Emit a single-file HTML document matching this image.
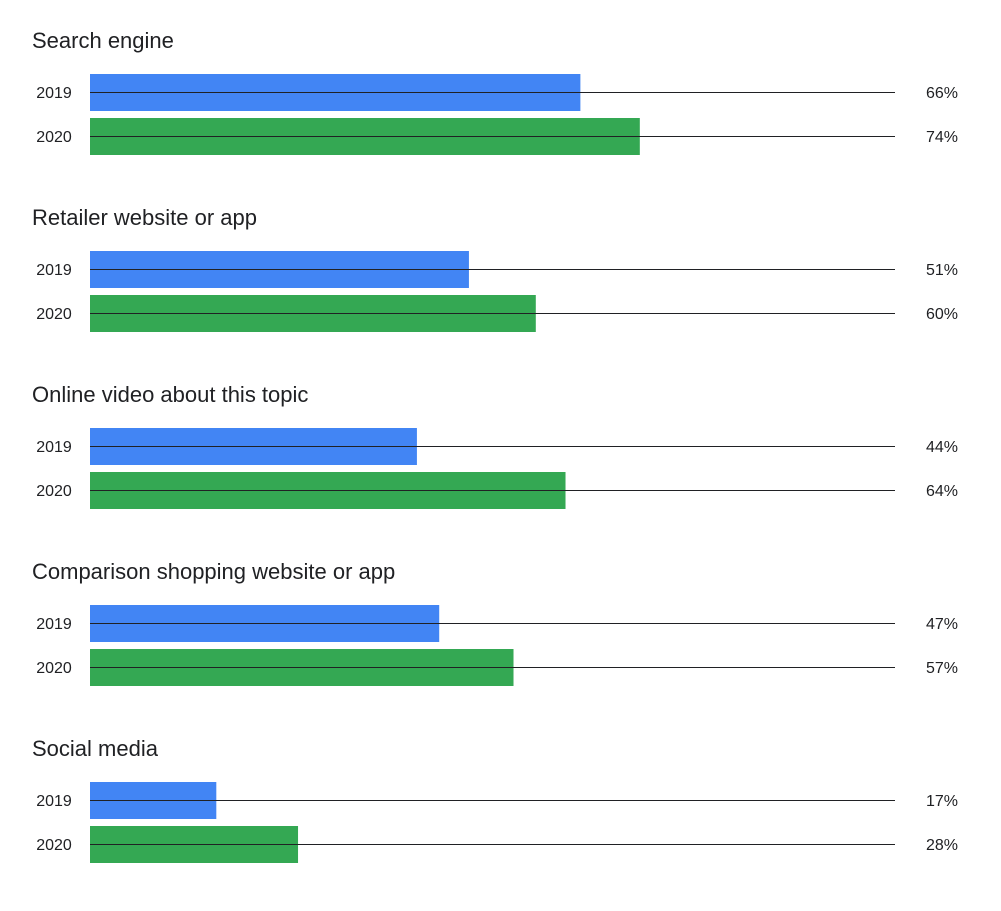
<!DOCTYPE html>
<html><head><meta charset="utf-8"><style>
html,body{margin:0;padding:0;background:#fff;}
svg{display:block;font-family:"Liberation Sans",sans-serif;}
</style></head><body>
<svg id="chart" width="1001" height="911" viewBox="0 0 1001 911"></svg>
<script>
const categories = ["Search engine","Retailer website or app","Online video about this topic","Comparison shopping website or app","Social media"];
const years = ["2019","2020"];
const values2019 = [66,51,44,47,17];
const values2020 = [74,60,64,57,28];

const svg = document.getElementById('chart');
const NS = 'http://www.w3.org/2000/svg';
const x0 = 90, pxPerPct = 7.43, lineEnd = 895;
const xScale = v => x0 + v * pxPerPct;
const groupTop = i => 74 + i * 177;
const colors = ["#4285F4","#34A853"];
function mk(tag, attrs, text){
  const e = document.createElementNS(NS, tag);
  for (const k in attrs) e.setAttribute(k, attrs[k]);
  if (text !== undefined) e.textContent = text;
  svg.appendChild(e);
  return e;
}
categories.forEach((cat, i) => {
  const top = groupTop(i);
  const t = mk('text', {x:32, y:top-26, 'font-size':22, fill:'#202124'}, cat);
  
  
  [values2019, values2020].forEach((series, s) => {
    const y = top + s * 44;
    const v = series[i];
    const lbl = mk('text', {x:54, y:y+24, 'font-size':16, fill:'#202124', 'text-anchor':'middle'}, years[s]);
    
    
    const bar = mk('rect', {x:x0, y:y, width:xScale(v)-x0, height:37, fill:colors[s]});
    
    
    const ln = mk('line', {x1:x0, x2:lineEnd, y1:y+18.5, y2:y+18.5, stroke:'#202124', 'stroke-width':1});
    
    
    const val = mk('text', {x:942, y:y+24, 'font-size':16, fill:'#202124', 'text-anchor':'middle'}, v + '%');
    
    
  });
});
</script>
</body></html>
